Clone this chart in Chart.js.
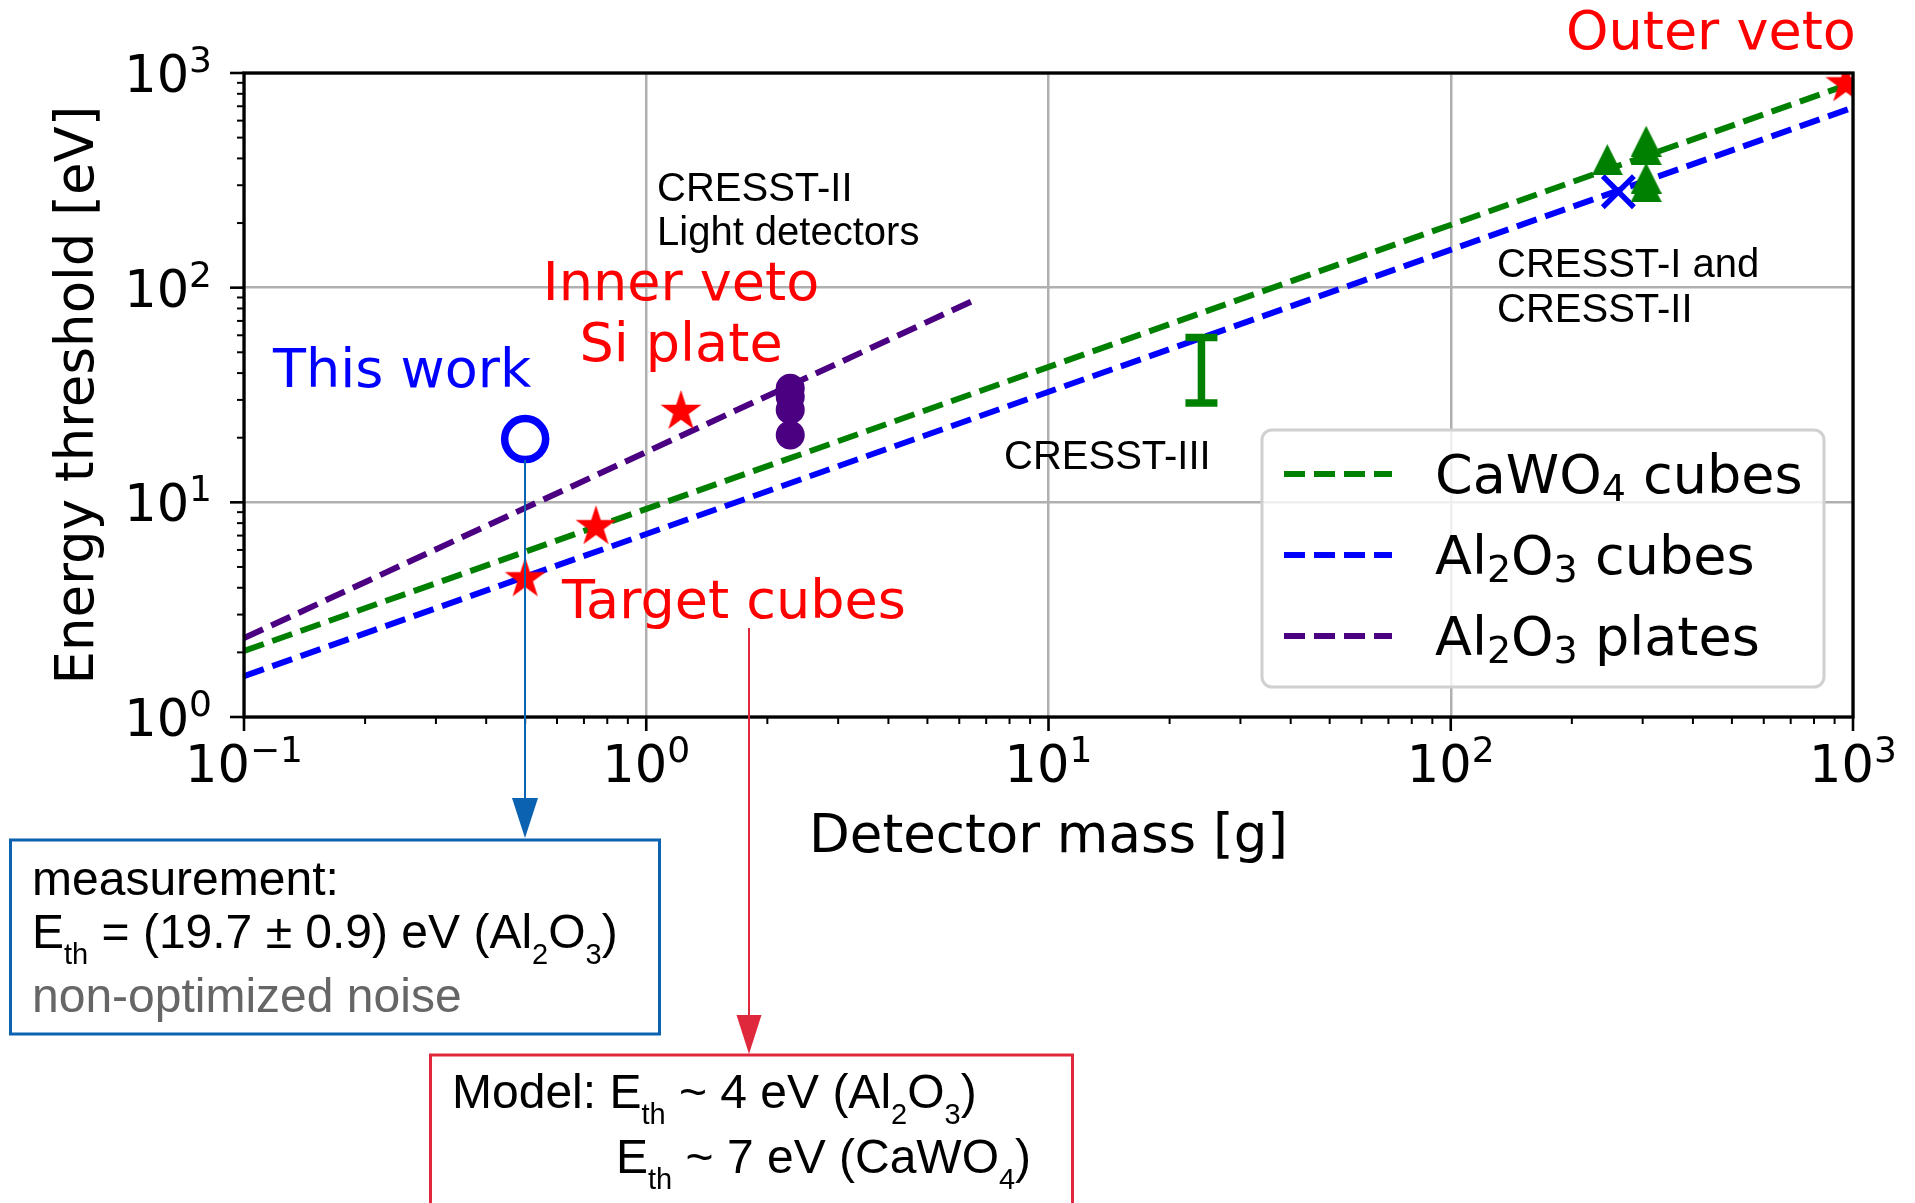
<!DOCTYPE html>
<html>
<head>
<meta charset="utf-8">
<script src="https://cdn.jsdelivr.net/npm/chart.js@4.4.1/dist/chart.umd.min.js"></script>
<style>
  html, body { margin: 0; padding: 0; background: #fff; }
  #wrap { width: 1915px; height: 1203px; position: relative; }
</style>
</head>
<body>
<div id="wrap"><canvas id="thresholdChart"></canvas></div>
<script>
// scaling lines (detector mass [g] -> energy threshold [eV])
const lineMass = [0.1, 1000];
const cawo4Cubes = [2.03, 900];
const al2o3Cubes = [1.55, 690];
const plateMass = [0.1, 6.5];
const al2o3Plates = [2.33, 87];

// measured detectors
const thisWorkMass = [0.5];
const thisWorkE = [19.7];
const vetoMass = [0.5, 0.75, 1.22, 960];
const vetoE = [4.4, 7.7, 26.5, 890];
const lightDetMass = [2.28, 2.28, 2.28, 2.28];
const lightDetE = [34, 31, 27, 20.6];
const cresstTriMass = [245, 306, 306, 306, 306];
const cresstTriE = [395, 481, 440, 324, 296];
const cresstXMass = [261];
const cresstXE = [280];
const cresst3Mass = [24, 24];
const cresst3E = [29, 58.6];

// axis decades (exponents of 10)
const xTickExp = [-1, 0, 1, 2, 3];
const yTickExp = [0, 1, 2, 3];

const legendLabels = ["CaWO_{4} cubes", "Al_{2}O_{3} cubes", "Al_{2}O_{3} plates"];
const legendColors = ["#008000", "#0000ff", "#4b0082"];

const MPL = '"DejaVu Sans"';
const ARIAL = '"Liberation Sans"';
const DASH = [21, 9];

const pt = (xs, ys) => xs.map((v, i) => ({ x: v, y: ys[i] }));

// marker images
function starImage(R, color) {
    const c = document.createElement('canvas');
    c.width = c.height = Math.ceil(2 * R + 2);
    const g = c.getContext('2d');
    const r = R * 0.381966;
    g.beginPath();
    for (let i = 0; i < 10; i++) {
        const ang = -Math.PI / 2 + i * Math.PI / 5;
        const rr = i % 2 === 0 ? R : r;
        g.lineTo(c.width / 2 + rr * Math.cos(ang), c.height / 2 + rr * Math.sin(ang));
    }
    g.closePath();
    g.fillStyle = color;
    g.fill();
    return c;
}
function triangleImage(s, color) {
    const c = document.createElement('canvas');
    c.width = c.height = s;
    const g = c.getContext('2d');
    g.beginPath();
    g.moveTo(s / 2, 0);
    g.lineTo(s, s);
    g.lineTo(0, s);
    g.closePath();
    g.fillStyle = color;
    g.fill();
    return c;
}

// text with _{sub} and ^{sup} parts
function drawRich(ctx, str, x, y, o) {
    const parts = [];
    const re = /([_^])\{([^}]*)\}/g;
    let last = 0, m;
    while ((m = re.exec(str)) !== null) {
        if (m.index > last) parts.push({ t: str.slice(last, m.index), k: '' });
        parts.push({ t: m[2], k: m[1] });
        last = re.lastIndex;
    }
    if (last < str.length) parts.push({ t: str.slice(last), k: '' });
    const fontOf = k => (k ? o.small : o.size) + 'px ' + o.family;
    let total = 0;
    parts.forEach(p => { ctx.font = fontOf(p.k); p.w = ctx.measureText(p.t).width; total += p.w; });
    let cx = x;
    if (o.align === 'center') cx = x - total / 2;
    if (o.align === 'right') cx = x - total;
    ctx.fillStyle = o.color || '#000';
    ctx.textAlign = 'left';
    ctx.textBaseline = 'alphabetic';
    parts.forEach(p => {
        ctx.font = fontOf(p.k);
        const dy = p.k === '_' ? (o.sub || 0) : (p.k === '^' ? -(o.sup || 0) : 0);
        ctx.fillText(p.t, cx, y + dy);
        cx += p.w;
    });
    return total;
}

function arrowDown(ctx, x, y0, y1, head, halfW, color) {
    ctx.strokeStyle = color;
    ctx.fillStyle = color;
    ctx.lineWidth = 2;
    ctx.setLineDash([]);
    ctx.beginPath();
    ctx.moveTo(x, y0);
    ctx.lineTo(x, y1 - head + 2);
    ctx.stroke();
    ctx.beginPath();
    ctx.moveTo(x - halfW, y1 - head);
    ctx.lineTo(x + halfW, y1 - head);
    ctx.lineTo(x, y1);
    ctx.closePath();
    ctx.fill();
}

const decor = {
    id: 'decor',
    beforeDraw(chart) {
        const ctx = chart.ctx;
        ctx.save();
        ctx.fillStyle = '#fff';
        ctx.fillRect(0, 0, chart.width, chart.height);
        ctx.restore();
    },
    afterDatasetsDraw(chart) {
        const { ctx, chartArea: a, scales: { x, y } } = chart;
        ctx.save();
        ctx.setLineDash([]);

        // spines
        ctx.strokeStyle = '#000';
        ctx.lineWidth = 3.3;
        ctx.strokeRect(a.left, a.top, a.right - a.left, a.bottom - a.top);

        // tick marks: major + minor on bottom and left
        ctx.lineCap = 'butt';
        for (let e = xTickExp[0]; e <= xTickExp[xTickExp.length - 1]; e++) {
            for (let k = 1; k <= 9; k++) {
                const v = k * Math.pow(10, e);
                if (v > 1000.001) break;
                const px = x.getPixelForValue(v);
                ctx.lineWidth = k === 1 ? 2.6 : 2;
                ctx.beginPath();
                ctx.moveTo(px, a.bottom);
                ctx.lineTo(px, a.bottom + (k === 1 ? 14 : 7));
                ctx.stroke();
            }
        }
        for (let e = yTickExp[0]; e <= yTickExp[yTickExp.length - 1]; e++) {
            for (let k = 1; k <= 9; k++) {
                const v = k * Math.pow(10, e);
                if (v > 1000.001) break;
                const py = y.getPixelForValue(v);
                ctx.lineWidth = k === 1 ? 2.6 : 2;
                ctx.beginPath();
                ctx.moveTo(a.left, py);
                ctx.lineTo(a.left - (k === 1 ? 14 : 7), py);
                ctx.stroke();
            }
        }

        // tick labels 10^n
        const tickOpt = { family: MPL, size: 51, small: 36, sup: 20, color: '#000' };
        xTickExp.forEach(e => {
            const px = x.getPixelForValue(Math.pow(10, e));
            drawRich(ctx, '10^{' + String(e).replace('-', '\u2212') + '}', px, 782, Object.assign({ align: 'center' }, tickOpt));
        });
        yTickExp.forEach(e => {
            const py = y.getPixelForValue(Math.pow(10, e));
            drawRich(ctx, '10^{' + e + '}', 212, py + 19, Object.assign({ align: 'right' }, tickOpt));
        });

        // axis titles
        ctx.fillStyle = '#000';
        ctx.font = '53px ' + MPL;
        ctx.textAlign = 'center';
        ctx.textBaseline = 'alphabetic';
        ctx.fillText('Detector mass [g]', (a.left + a.right) / 2, 852);
        ctx.save();
        ctx.translate(93, (a.top + a.bottom) / 2);
        ctx.rotate(-Math.PI / 2);
        ctx.fillText('Energy threshold [eV]', 0, 0);
        ctx.restore();

        // legend
        ctx.beginPath();
        ctx.roundRect(1262, 430, 562, 257, 10);
        ctx.fillStyle = 'rgba(255,255,255,0.8)';
        ctx.fill();
        ctx.strokeStyle = '#d0d0d0';
        ctx.lineWidth = 3;
        ctx.stroke();
        const rowY = [474, 555, 636];
        legendLabels.forEach((lab, i) => {
            ctx.strokeStyle = legendColors[i];
            ctx.lineWidth = 6;
            ctx.setLineDash(DASH);
            ctx.beginPath();
            ctx.moveTo(1284, rowY[i]);
            ctx.lineTo(1392, rowY[i]);
            ctx.stroke();
            ctx.setLineDash([]);
            drawRich(ctx, lab, 1435, rowY[i] + 19, { family: MPL, size: 54, small: 38, sub: 8, color: '#000' });
        });

        // labels inside the plot
        const big = { family: MPL, size: 54 };
        drawRich(ctx, 'Outer veto', 1566, 49, Object.assign({ color: '#ff0000' }, big));
        drawRich(ctx, 'This work', 273, 387, Object.assign({ color: '#0000ff' }, big));
        drawRich(ctx, 'Inner veto', 681, 300, Object.assign({ color: '#ff0000', align: 'center' }, big));
        drawRich(ctx, 'Si plate', 681, 361, Object.assign({ color: '#ff0000', align: 'center' }, big));
        drawRich(ctx, 'Target cubes', 562, 618, Object.assign({ color: '#ff0000' }, big));

        const small = { family: ARIAL, size: 40, color: '#000' };
        drawRich(ctx, 'CRESST-II', 657, 201, small);
        drawRich(ctx, 'Light detectors', 657, 245, small);
        drawRich(ctx, 'CRESST-III', 1004, 469, small);
        drawRich(ctx, 'CRESST-I and', 1497, 277, small);
        drawRich(ctx, 'CRESST-II', 1497, 322, small);

        // call-out arrows and boxes
        const blueC = '#0b62b0';
        const redC = '#e0283c';
        arrowDown(ctx, 525, 460, 838, 40, 13, blueC);
        arrowDown(ctx, 749, 628, 1054, 39, 12.5, redC);

        ctx.lineWidth = 3;
        ctx.strokeStyle = blueC;
        ctx.strokeRect(10.5, 840, 649, 194);
        ctx.strokeStyle = redC;
        ctx.strokeRect(430.5, 1055, 642, 220);

        const box = { family: ARIAL, size: 48, small: 29, sub: 16, color: '#000' };
        drawRich(ctx, 'measurement:', 32, 895, box);
        drawRich(ctx, 'E_{th} = (19.7 \u00b1 0.9) eV (Al_{2}O_{3})', 32, 948, box);
        drawRich(ctx, 'non-optimized noise', 32, 1012, Object.assign({}, box, { color: '#666666' }));
        drawRich(ctx, 'Model: E_{th} ~ 4 eV (Al_{2}O_{3})', 452, 1108, box);
        drawRich(ctx, 'E_{th} ~ 7 eV (CaWO_{4})', 616, 1173, box);

        ctx.restore();
    }
};

const ctx = document.getElementById('thresholdChart').getContext('2d');
const thresholdChart = new Chart(ctx, {
    type: 'scatter',
    data: {
        datasets: [
            {   // this work
                data: pt(thisWorkMass, thisWorkE),
                pointStyle: 'circle',
                pointRadius: 20.5,
                pointBorderWidth: 7.5,
                pointBorderColor: '#0000ff',
                pointBackgroundColor: 'rgba(0,0,0,0)',
                order: 1
            },
            {   // veto detectors
                data: pt(vetoMass, vetoE),
                pointStyle: starImage(21.5, '#ff0000'),
                clip: 0,
                order: 1
            },
            {   // CRESST-II light detectors
                data: pt(lightDetMass, lightDetE),
                pointStyle: 'circle',
                pointRadius: 14.5,
                pointBorderWidth: 0,
                pointBackgroundColor: '#4b0082',
                order: 1
            },
            {   // CRESST-I / II
                data: pt(cresstTriMass, cresstTriE),
                pointStyle: triangleImage(31, '#008000'),
                order: 1
            },
            {
                data: pt(cresstXMass, cresstXE),
                pointStyle: 'crossRot',
                pointRadius: 22,
                pointBorderWidth: 5.5,
                pointBorderColor: '#0000ff',
                order: 1
            },
            {   // CRESST-III range
                data: pt(cresst3Mass, cresst3E),
                showLine: true,
                borderColor: '#008000',
                borderWidth: 7.5,
                pointStyle: 'line',
                pointRadius: 16,
                pointBorderWidth: 7.5,
                pointBorderColor: '#008000',
                order: 1
            },
            {
                label: 'CaWO4 cubes',
                data: pt(lineMass, cawo4Cubes),
                showLine: true,
                borderColor: '#008000',
                borderWidth: 6,
                borderDash: DASH,
                pointRadius: 0,
                order: 2
            },
            {
                label: 'Al2O3 cubes',
                data: pt(lineMass, al2o3Cubes),
                showLine: true,
                borderColor: '#0000ff',
                borderWidth: 6,
                borderDash: DASH,
                pointRadius: 0,
                order: 2
            },
            {
                label: 'Al2O3 plates',
                data: pt(plateMass, al2o3Plates),
                showLine: true,
                borderColor: '#4b0082',
                borderWidth: 6,
                borderDash: DASH,
                pointRadius: 0,
                order: 2
            }
        ]
    },
    options: {
        responsive: true,
        maintainAspectRatio: false,
        animation: false,
        events: [],
        layout: { padding: { left: 244, top: 73, right: 62, bottom: 486 } },
        plugins: { legend: { display: false }, tooltip: { enabled: false } },
        scales: {
            x: {
                type: 'logarithmic',
                min: 0.1,
                max: 1000,
                afterBuildTicks: s => { s.ticks = xTickExp.map(e => ({ value: Math.pow(10, e) })); },
                ticks: { display: false },
                grid: { color: '#b0b0b0', lineWidth: 2.5, drawTicks: false },
                border: { display: false }
            },
            y: {
                type: 'logarithmic',
                min: 1,
                max: 1000,
                afterBuildTicks: s => { s.ticks = yTickExp.map(e => ({ value: Math.pow(10, e) })); },
                ticks: { display: false },
                grid: { color: '#b0b0b0', lineWidth: 2.5, drawTicks: false },
                border: { display: false }
            }
        }
    },
    plugins: [decor]
});
</script>
</body>
</html>
